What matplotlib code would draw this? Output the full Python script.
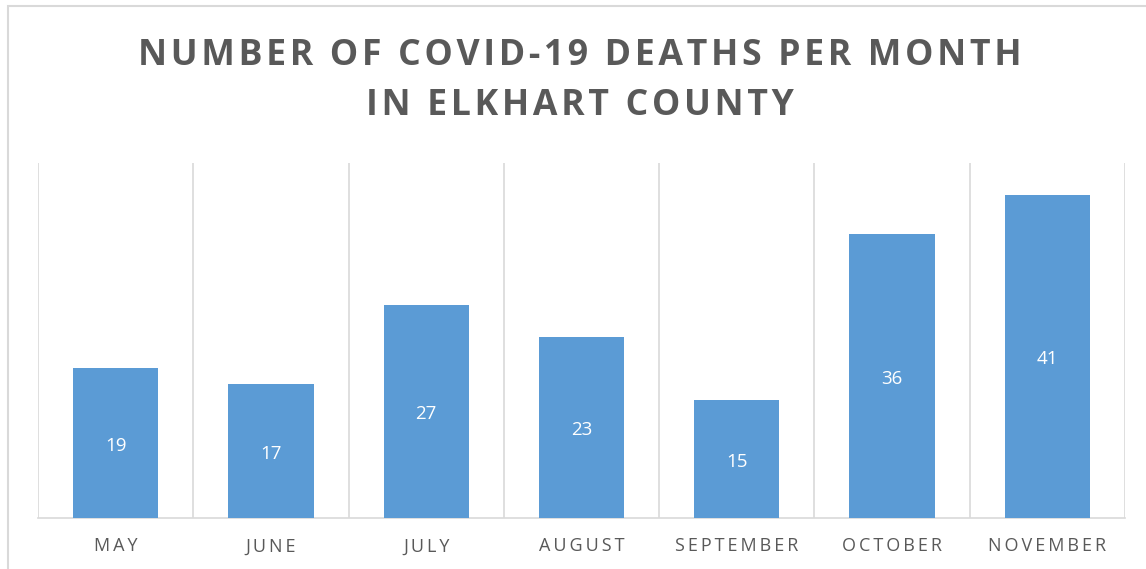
import matplotlib.pyplot as plt
from matplotlib.patches import Rectangle
import numpy as np

months = ["MAY", "JUNE", "JULY", "AUGUST", "SEPTEMBER", "OCTOBER", "NOVEMBER"]
deaths = [19, 17, 27, 23, 15, 36, 41]

plt.rcParams['font.family'] = ['Open Sans', 'DejaVu Sans']

def spaced(s, sep="\u2009"):
    return sep.join(s)

fig = plt.figure(figsize=(11.46, 5.69), dpi=100)
ax = fig.add_axes([38/1146, 51/569, 1087/1146, 355/569])

x = np.arange(len(months))
bars = ax.bar(x, deaths, width=0.55, color="#5B9BD5", zorder=3)

for b, v in zip(bars, deaths):
    ax.annotate(str(v), (b.get_x() + b.get_width()/2, v/2), xytext=(0, -2),
                textcoords="offset points", ha="center", va="center",
                color="white", fontsize=13.5)

ax.set_xlim(-0.5, len(months) - 0.5)
ax.set_ylim(0, 45)

# category separators
for i in range(len(months) + 1):
    ax.axvline(i - 0.5, color="#d9d9d9", lw=1.2, zorder=1)

for s in ["top", "right", "left"]:
    ax.spines[s].set_visible(False)
ax.spines["bottom"].set_color("#d9d9d9")
ax.spines["bottom"].set_linewidth(1.2)
ax.set_yticks([])
ax.set_xticks(x)
ax.set_xticklabels([spaced(m) for m in months], fontsize=13, color="#595959")
ax.tick_params(axis="x", length=0, pad=14)

fig.text(0.506, 1 - 56/569, spaced("NUMBER OF COVID-19 DEATHS PER MONTH", "\u200a"),
         ha="center", va="center", fontsize=25.7, fontweight="bold", color="#595959")
fig.text(0.506, 1 - 106/569, spaced("IN ELKHART COUNTY", "\u200a"),
         ha="center", va="center", fontsize=25.7, fontweight="bold", color="#595959")

fig.patches.append(Rectangle((8/1146, -0.02), 1.0, 1 - 6/569 + 0.02,
                             transform=fig.transFigure, fill=False,
                             edgecolor="#d9d9d9", lw=1.5))

fig.savefig("out.png", dpi=100)
